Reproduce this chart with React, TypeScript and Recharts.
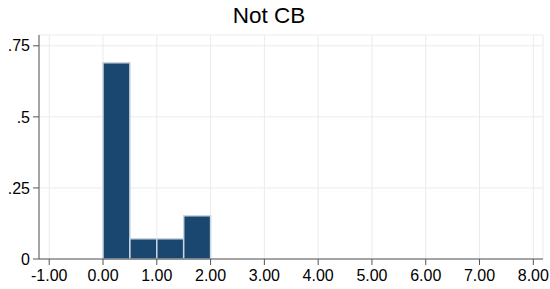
import React from "react";
import { ComposedChart, XAxis, YAxis, CartesianGrid, ReferenceArea, Line } from "recharts";

const title = "Not CB";
const binStarts = [0, 0.5, 1, 1.5];
const binEnds = [0.5, 1, 1.5, 2];
const fractions = [0.69, 0.071, 0.071, 0.152];
const xTicks = [-1, 0, 1, 2, 3, 4, 5, 6, 7, 8];
const yTicks = [0, 0.25, 0.5, 0.75];

const data = binStarts.map((s, i) => ({ x: (s + binEnds[i]) / 2, y: fractions[i] }));

const fmtY = (v: number) => (v === 0 ? "0" : String(v).replace(/^0/, ""));
const fmtX = (v: number) => v.toFixed(2);

const FONT = "'Liberation Sans', Arial, sans-serif";

export default function App() {
  return (
    <div style={{ position: "absolute", left: 0, top: 0, width: 550, height: 289, background: "#fff", fontFamily: FONT }}>
      <div style={{ position: "absolute", left: 0, top: 3, width: 538, textAlign: "center", fontSize: 22.5, color: "#000" }}>
        {title}
      </div>
      <ComposedChart width={550} height={289} data={data} margin={{ top: 35, right: 7, bottom: 0, left: 0 }}>
        <CartesianGrid stroke="#ebebeb" strokeWidth={1} />
        <XAxis
          type="number"
          dataKey="x"
          domain={[-1.19, 8.18]}
          ticks={xTicks}
          tickFormatter={fmtX}
          allowDataOverflow
          height={30}
          tickSize={6}
          tickMargin={5}
          stroke="#555"
          tick={{ fill: "#000", fontSize: 16, fontFamily: FONT }}
        />
        <YAxis
          type="number"
          domain={[0, 0.788]}
          ticks={yTicks}
          tickFormatter={fmtY}
          allowDataOverflow
          width={39}
          tickSize={6}
          tickMargin={3}
          stroke="#555"
          tick={{ fill: "#000", fontSize: 16, fontFamily: FONT }}
        />
        {binStarts.map((s, i) => (
          <ReferenceArea
            key={i}
            x1={s}
            x2={binEnds[i]}
            y1={0}
            y2={fractions[i]}
            fill="#1a476f"
            fillOpacity={1}
            stroke="#c9d5e0"
            strokeWidth={1.5}
            strokeOpacity={1}
          />
        ))}
        <Line dataKey="y" stroke="none" dot={false} isAnimationActive={false} />
      </ComposedChart>
    </div>
  );
}
